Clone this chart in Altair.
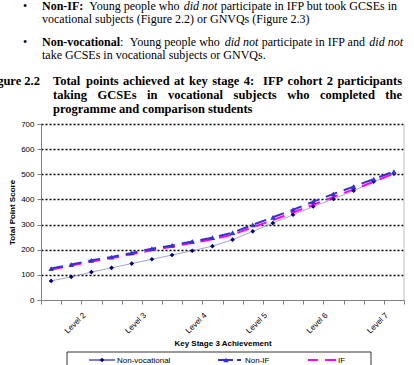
import altair as alt
import pandas as pd

# ---------------- data ----------------
n_cat = 18
non_vocational = [76, 92, 111, 128, 145, 162, 179, 196, 214, 240, 273, 306, 339, 372, 402, 435, 471, 503]
non_if = [125, 141, 158, 171, 187, 204, 217, 233, 248, 268, 299, 329, 359, 391, 422, 451, 481, 511]
if_vals = [121, 137, 153, 167, 182, 198, 212, 227, 242, 260, 289, 318, 348, 379, 410, 440, 470, 503]
level_positions = [2, 5, 8, 11, 14, 17]
level_labels = ["Level 2", "Level 3", "Level 4", "Level 5", "Level 6", "Level 7"]
y_ticks = [0, 100, 200, 300, 400, 500, 600, 700]
series_names = ["Non-vocational", "Non-IF", "IF"]

# page text: (text, page_x, page_y, size, weight, style, align)
body_segments = [
    ("•", 23, 9.5, 12, "normal", "normal", "left"),
    ("Non-IF:", 42, 9.5, 12, "bold", "normal", "left"),
    ("Young people who", 89.3, 9.5, 12, "normal", "normal", "left"),
    ("did not", 183.7, 9.5, 12, "normal", "italic", "left"),
    ("participate in IFP but took GCSEs in", 397, 9.5, 12, "normal", "normal", "right"),
    ("vocational subjects (Figure 2.2) or GNVQs (Figure 2.3)", 42, 23, 12, "normal", "normal", "left"),
    ("•", 23, 45.5, 12, "normal", "normal", "left"),
    ("Non-vocational", 42, 45.5, 12, "bold", "normal", "left"),
    (":", 120, 45.5, 12, "normal", "normal", "left"),
    ("Young people who", 129.7, 45.5, 12, "normal", "normal", "left"),
    ("did not", 224.7, 45.5, 12, "normal", "italic", "left"),
    ("participate in IFP and", 261.7, 45.5, 12, "normal", "normal", "left"),
    ("did not", 403, 45.5, 12, "normal", "italic", "right"),
    ("take GCSEs in vocational subjects or GNVQs.", 42, 59, 12, "normal", "normal", "left"),
]
caption_1_words = ["Total", "points", "achieved", "at", "key", "stage", "4:", "IFP", "cohort", "2", "participants"]
caption_1_x = [53, 86.0, 123.1, 174.1, 189.0, 212.2, 243.7, 263.1, 287.6, 326.8, 402]
caption_2_words = ["taking", "GCSEs", "in", "vocational", "subjects", "who", "completed", "the"]
caption_2_x = [53, 97.6, 147.1, 168.1, 233.6, 287.2, 320.0, 402]
caption_3 = "programme and comparison students"
fig_label = "Figure 2.2"
cap_y = [84.5, 98.5, 112.5]

# ---------------- layout ----------------
PAD_L, PAD_T = 41, 124
W, H = 363, 176
SERIF = "Liberation Serif"
SANS = "Liberation Sans"

rows = []
for i in range(n_cat):
    rows.append({"pos": i + 0.5, "series": "Non-vocational", "value": non_vocational[i]})
    rows.append({"pos": i + 0.5, "series": "Non-IF", "value": non_if[i]})
    rows.append({"pos": i + 0.5, "series": "IF", "value": if_vals[i]})
df = pd.DataFrame(rows)

label_expr = "''"
for p, lab in zip(reversed(level_positions), reversed(level_labels)):
    label_expr = f"datum.value == {p} ? '{lab}' : ({label_expr})"

xscale = alt.Scale(domain=[0, n_cat], nice=False, zero=False)
yscale = alt.Scale(domain=[0, 700], nice=False)

x_axis = alt.Axis(
    values=list(range(n_cat + 1)), labelExpr=label_expr, labelAngle=-45,
    labelFont=SANS, labelFontSize=8, labelColor="#000", labelPadding=7,
    labelOverlap=False, labelBound=False, labelFlush=False,
    tickSize=4, tickColor="#808080", domainColor="#808080", grid=False,
    title="Key Stage 3 Achievement", titleFont=SANS, titleFontSize=8, titleFontWeight="bold",
    titleY=45, titleBaseline="alphabetic", titleColor="#000")
y_axis = alt.Axis(
    values=y_ticks, labelFont=SANS, labelFontSize=8, labelColor="#000", labelPadding=3,
    labelOverlap=False, tickSize=4, tickColor="#808080", domainColor="#808080",
    grid=True, gridDash=[2, 2], gridWidth=1.6,
    gridColor={"condition": {"test": "datum.value === 0", "value": "transparent"}, "value": "#000"},
    title="Total Point Score", titleFont=SANS, titleFontSize=8, titleFontWeight="bold",
    titleAngle=270, titleX=-29, titleY=H / 2, titleBaseline="middle", titleAlign="center",
    titleColor="#000")


def X():
    return alt.X("pos:Q", scale=xscale, axis=x_axis)


def Y():
    return alt.Y("value:Q", scale=yscale, axis=y_axis)


base = alt.Chart(df)
line_nv = base.transform_filter(alt.datum.series == "Non-vocational").mark_line(
    color="#8c8cd0", strokeWidth=0.8).encode(x=X(), y=Y())
pts_nv = base.transform_filter(alt.datum.series == "Non-vocational").mark_point(
    shape="diamond", filled=True, color="#000080", size=22, opacity=1).encode(x=X(), y=Y())
line_if = base.transform_filter(alt.datum.series == "IF").mark_line(
    color="#ff00ff", strokeWidth=2, strokeDash=[12, 7]).encode(x=X(), y=Y())
line_nif = base.transform_filter(alt.datum.series == "Non-IF").mark_line(
    color="#3333cc", strokeWidth=2, strokeDash=[12, 7]).encode(x=X(), y=Y())
pts_nif = base.transform_filter(alt.datum.series == "Non-IF").mark_point(
    shape="triangle-up", filled=True, color="#3333cc", size=30, opacity=1).encode(x=X(), y=Y())

right_border = alt.Chart(pd.DataFrame({"pos": [n_cat]})).mark_rule(
    color="#c0c0c0", strokeWidth=1).encode(x=X())

layers = [line_nv, line_if, line_nif, pts_nv, pts_nif, right_border]


def txt(t, px, py, size, weight="normal", style="normal", align="left", font=SERIF):
    return alt.Chart(pd.DataFrame({"a": [0]})).mark_text(
        align=align, baseline="alphabetic", font=font, fontSize=size,
        fontWeight=weight, fontStyle=style, color="#000").encode(
        x=alt.value(px - PAD_L), y=alt.value(py - PAD_T), text=alt.value(t))


for (t, px, py, s, w, st, al) in body_segments:
    layers.append(txt(t, px, py, s, w, st, al))
for j, (wd, px) in enumerate(zip(caption_1_words, caption_1_x)):
    layers.append(txt(wd, px, cap_y[0], 12.5, "bold", "normal",
                      "right" if j == len(caption_1_words) - 1 else "left"))
for j, (wd, px) in enumerate(zip(caption_2_words, caption_2_x)):
    layers.append(txt(wd, px, cap_y[1], 12.5, "bold", "normal",
                      "right" if j == len(caption_2_words) - 1 else "left"))
layers.append(txt(caption_3, 53, cap_y[2], 12.5, "bold"))
layers.append(txt(fig_label, 40, cap_y[0], 12.5, "bold", "normal", "right"))

# ---------------- legend box ----------------
LY = 360 - PAD_T
layers.append(alt.Chart(pd.DataFrame({"a": [0]})).mark_rect(
    fill="white", stroke="#000", strokeWidth=0.8).encode(
    x=alt.value(67 - PAD_L), x2=alt.value(371 - PAD_L),
    y=alt.value(352 - PAD_T), y2=alt.value(372 - PAD_T)))
layers.append(alt.Chart(pd.DataFrame({"a": [0]})).mark_rule(color="#000080", strokeWidth=1).encode(
    x=alt.value(89 - PAD_L), x2=alt.value(115 - PAD_L), y=alt.value(LY)))
layers.append(alt.Chart(pd.DataFrame({"a": [0]})).mark_point(
    shape="diamond", filled=True, color="#000080", size=22, opacity=1).encode(
    x=alt.value(102 - PAD_L), y=alt.value(LY)))
layers.append(alt.Chart(pd.DataFrame({"a": [0]})).mark_rule(color="#3333cc", strokeWidth=2).encode(
    x=alt.value(218 - PAD_L), x2=alt.value(233 - PAD_L), y=alt.value(LY)))
layers.append(alt.Chart(pd.DataFrame({"a": [0]})).mark_rule(color="#3333cc", strokeWidth=2).encode(
    x=alt.value(237 - PAD_L), x2=alt.value(241 - PAD_L), y=alt.value(LY)))
layers.append(alt.Chart(pd.DataFrame({"a": [0]})).mark_point(
    shape="triangle-up", filled=True, color="#3333cc", size=30, opacity=1).encode(
    x=alt.value(226 - PAD_L), y=alt.value(LY)))
layers.append(alt.Chart(pd.DataFrame({"a": [0]})).mark_rule(color="#ff00ff", strokeWidth=2).encode(
    x=alt.value(308 - PAD_L), x2=alt.value(318 - PAD_L), y=alt.value(LY)))
layers.append(alt.Chart(pd.DataFrame({"a": [0]})).mark_rule(color="#ff00ff", strokeWidth=2).encode(
    x=alt.value(325 - PAD_L), x2=alt.value(336 - PAD_L), y=alt.value(LY)))
for name, px in zip(series_names, [117, 245, 338]):
    layers.append(txt(name, px, 363, 8, font=SANS))

chart = alt.layer(*layers).properties(
    width=W, height=H,
    padding={"left": PAD_L, "top": PAD_T, "right": 414 - PAD_L - W, "bottom": 365 - PAD_T - H},
    autosize=alt.AutoSizeParams(type="none"),
    background="white",
).configure_view(stroke=None)

chart.save("out.html", embed_options={"renderer": "svg", "actions": False})
